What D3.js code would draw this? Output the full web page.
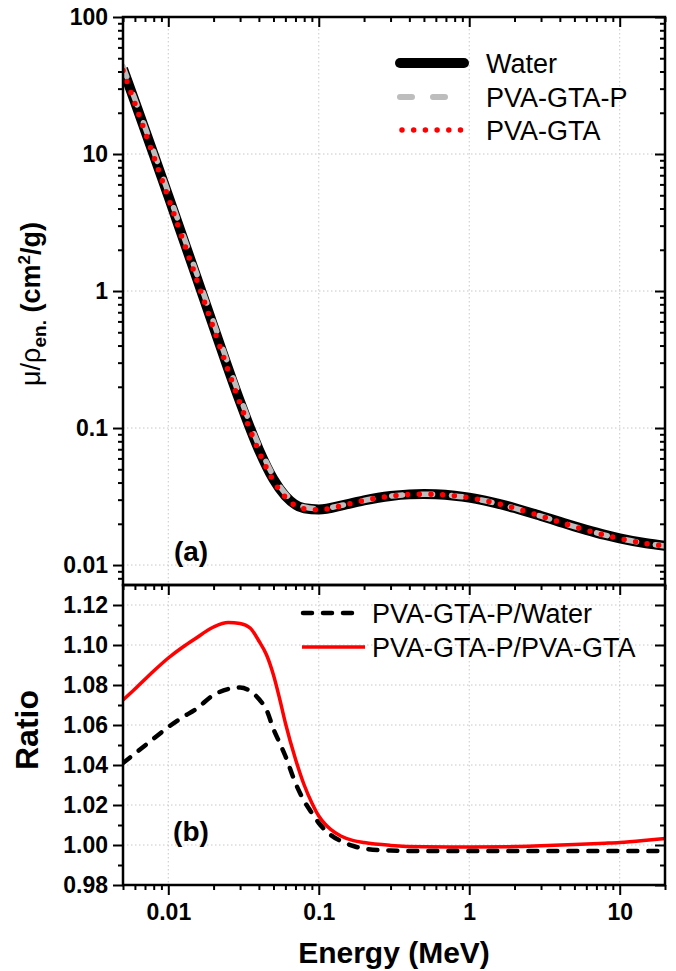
<!DOCTYPE html>
<html>
<head>
<meta charset="utf-8">
<script src="https://cdn.jsdelivr.net/npm/d3@7"></script>
<style>
  body { margin: 0; background: #fff; }
  svg { display: block; font-family: Arial, "Liberation Sans", sans-serif; }
</style>
</head>
<body>
<div id="chart"></div>
<script>
// ---- data ----
// panel (a): energy grid in MeV and mass energy-absorption coefficients (cm2/g)
const energyA = [0.005, 0.006, 0.008, 0.01, 0.015, 0.02, 0.03, 0.04, 0.05, 0.06, 0.08, 0.1,
  0.15, 0.2, 0.3, 0.4, 0.5, 0.6, 0.8, 1, 1.25, 1.5, 2, 3, 4, 5, 6, 8, 10, 15, 20];
const water = [41.88, 24.05, 9.915, 4.944, 1.374, 0.5503, 0.1557, 0.06947, 0.04223, 0.03190, 0.02597, 0.02546,
  0.02764, 0.02967, 0.03192, 0.03279, 0.03299, 0.03284, 0.03206, 0.03103, 0.02965, 0.02833, 0.02608, 0.02281,
  0.02066, 0.01915, 0.01806, 0.01658, 0.01566, 0.01441, 0.01382];
const pvaGtaP = [43.60, 25.16, 10.44, 5.236, 1.467, 0.5910, 0.1680, 0.07454, 0.04468, 0.03324, 0.02654, 0.02574,
  0.02761, 0.02961, 0.03182, 0.03269, 0.03289, 0.03274, 0.03196, 0.03094, 0.02956, 0.02825, 0.02600, 0.02274,
  0.02060, 0.01909, 0.01801, 0.01653, 0.01561, 0.01437, 0.01378];
const pvaGta = [40.67, 23.36, 9.613, 4.790, 1.329, 0.5334, 0.1512, 0.06758, 0.04118, 0.03127, 0.02569, 0.02536,
  0.02750, 0.02958, 0.03185, 0.03272, 0.03292, 0.03277, 0.03199, 0.03097, 0.02959, 0.02828, 0.02603, 0.02276,
  0.02060, 0.01909, 0.01799, 0.01651, 0.01559, 0.01434, 0.01374];

// panel (b): ratios
const energyB = [0.005, 0.006, 0.008, 0.01, 0.0125, 0.015, 0.02, 0.025, 0.03, 0.035, 0.04, 0.045, 0.05, 0.055,
  0.06, 0.07, 0.08, 0.09, 0.1, 0.11, 0.12, 0.14, 0.17, 0.2, 0.3, 0.5, 1, 2, 3, 5, 8, 10, 15, 20];
const ratioWater = [1.041, 1.0457, 1.0532, 1.059, 1.064, 1.0675, 1.075, 1.078, 1.0788, 1.077, 1.073, 1.0675, 1.058, 1.051,
  1.0445, 1.031, 1.022, 1.016, 1.011, 1.0075, 1.005, 1.002, 0.9995, 0.9982, 0.9972, 0.997, 0.997, 0.997, 0.997, 0.997,
  0.997, 0.997, 0.997, 0.997];
const ratioGta = [1.0725, 1.078, 1.087, 1.0935, 1.099, 1.103, 1.109, 1.1112, 1.1108, 1.1085, 1.102, 1.095, 1.085, 1.073,
  1.061, 1.043, 1.030, 1.021, 1.0145, 1.0105, 1.0078, 1.0045, 1.0022, 1.0012, 0.9998, 0.9991, 0.999, 0.9992, 0.9996,
  1.0002, 1.0009, 1.0013, 1.0024, 1.0033];

const xTicks = [0.01, 0.1, 1, 10];
const yTicksA = [0.01, 0.1, 1, 10, 100];
const yTicksB = [0.98, 1.00, 1.02, 1.04, 1.06, 1.08, 1.10, 1.12];

// ---- layout ----
const width = 676, height = 971;
const left = 123, right = 665;
const topA = 17, bottomA = 585, topB = 585, bottomB = 885;

const svg = d3.select("#chart").append("svg")
  .attr("width", width)
  .attr("height", height);

const x = d3.scaleLog().domain([0.005, 20]).range([left, right]);
const yA = d3.scaleLog().domain([0.00715, 100]).range([bottomA, topA]);
const yB = d3.scaleLinear().domain([0.98, 1.13]).range([bottomB, topB]);

// minor tick values
const xMinor = [];
[0.001, 0.01, 0.1, 1, 10].forEach(d => {
  for (let k = 2; k <= 9; k++) {
    const v = d * k;
    if (v >= 0.005 && v <= 20) xMinor.push(v);
  }
});
const yMinorA = [];
[0.001, 0.01, 0.1, 1, 10].forEach(d => {
  for (let k = 2; k <= 9; k++) {
    const v = d * k;
    if (v >= 0.00715 && v < 100) yMinorA.push(v);
  }
});
const yMinorB = [0.99, 1.01, 1.03, 1.05, 1.07, 1.09, 1.11];

// ---- grid ----
const gridStyle = g => g.attr("stroke", "#c8c8c8").attr("stroke-width", 1).attr("stroke-dasharray", "1.5,2.5");

svg.append("g").call(gridStyle)
  .selectAll("line").data(xTicks).enter().append("line")
  .attr("x1", d => x(d)).attr("x2", d => x(d))
  .attr("y1", topA).attr("y2", bottomA);
svg.append("g").call(gridStyle)
  .selectAll("line").data(yTicksA.filter(d => d < 100)).enter().append("line")
  .attr("x1", left).attr("x2", right)
  .attr("y1", d => yA(d)).attr("y2", d => yA(d));
svg.append("g").call(gridStyle)
  .selectAll("line").data(xTicks).enter().append("line")
  .attr("x1", d => x(d)).attr("x2", d => x(d))
  .attr("y1", topB).attr("y2", bottomB);
svg.append("g").call(gridStyle)
  .selectAll("line").data(yTicksB.filter(d => d > 0.98)).enter().append("line")
  .attr("x1", left).attr("x2", right)
  .attr("y1", d => yB(d)).attr("y2", d => yB(d));

// ---- curves ----
svg.append("clipPath").attr("id", "clipA").append("rect")
  .attr("x", left).attr("y", topA).attr("width", right - left).attr("height", bottomA - topA);
svg.append("clipPath").attr("id", "clipB").append("rect")
  .attr("x", left).attr("y", topB).attr("width", right - left).attr("height", bottomB - topB);

const lineA = d3.line().x(d => x(d[0])).y(d => yA(d[1])).curve(d3.curveMonotoneX);
const lineB = d3.line().x(d => x(d[0])).y(d => yB(d[1])).curve(d3.curveMonotoneX);

const gA = svg.append("g").attr("clip-path", "url(#clipA)");
gA.append("path").datum(d3.zip(energyA, water))
  .attr("d", lineA).attr("fill", "none").attr("stroke", "#000").attr("stroke-width", 10);
gA.append("path").datum(d3.zip(energyA, pvaGtaP))
  .attr("d", lineA).attr("fill", "none").attr("stroke", "#bdbdbd").attr("stroke-width", 5.5)
  .attr("stroke-linecap", "round").attr("stroke-dasharray", "11,19");
gA.append("path").datum(d3.zip(energyA, pvaGta))
  .attr("d", lineA).attr("fill", "none").attr("stroke", "#ff0000").attr("stroke-width", 5.5)
  .attr("stroke-linecap", "round").attr("stroke-dasharray", "0,11.7");

const gB = svg.append("g").attr("clip-path", "url(#clipB)");
gB.append("path").datum(d3.zip(energyB, ratioGta))
  .attr("d", lineB).attr("fill", "none").attr("stroke", "#ff0000").attr("stroke-width", 3.5);
gB.append("path").datum(d3.zip(energyB, ratioWater))
  .attr("d", lineB).attr("fill", "none").attr("stroke", "#000").attr("stroke-width", 4.5)
  .attr("stroke-linecap", "round").attr("stroke-dasharray", "9,11");

// ---- axes ----
function styleAxis(g) {
  g.select(".domain").remove();
  g.selectAll(".tick line").attr("stroke", "#000").attr("stroke-width", 2);
  g.selectAll(".tick text").attr("fill", "#000").attr("font-weight", "bold").attr("font-size", 23);
}
function noLabels(g) {
  styleAxis(g);
  g.selectAll(".tick text").remove();
}
const fmtA = d => d3.format("~g")(d);
const fmtB = d => d3.format(".2f")(d);

// panel (a)
svg.append("g").attr("transform", `translate(${left},0)`)
  .call(d3.axisLeft(yA).tickValues(yTicksA).tickFormat(fmtA).tickSize(10).tickPadding(5)).call(styleAxis);
svg.append("g").attr("transform", `translate(${left},0)`)
  .call(d3.axisLeft(yA).tickValues(yMinorA).tickSize(5)).call(noLabels);
svg.append("g").attr("transform", `translate(${right},0)`)
  .call(d3.axisRight(yA).tickValues(yTicksA).tickSize(-10)).call(noLabels);
svg.append("g").attr("transform", `translate(${right},0)`)
  .call(d3.axisRight(yA).tickValues(yMinorA).tickSize(-5)).call(noLabels);
svg.append("g").attr("transform", `translate(0,${topA})`)
  .call(d3.axisTop(x).tickValues(xTicks).tickSize(-10)).call(noLabels);
svg.append("g").attr("transform", `translate(0,${topA})`)
  .call(d3.axisTop(x).tickValues(xMinor).tickSize(-5)).call(noLabels);

// panel (b)
svg.append("g").attr("transform", `translate(${left},0)`)
  .call(d3.axisLeft(yB).tickValues(yTicksB).tickFormat(fmtB).tickSize(10).tickPadding(5)).call(styleAxis);
svg.append("g").attr("transform", `translate(${left},0)`)
  .call(d3.axisLeft(yB).tickValues(yMinorB).tickSize(5)).call(noLabels);
svg.append("g").attr("transform", `translate(${right},0)`)
  .call(d3.axisRight(yB).tickValues(yTicksB).tickSize(-10)).call(noLabels);
svg.append("g").attr("transform", `translate(${right},0)`)
  .call(d3.axisRight(yB).tickValues(yMinorB).tickSize(-5)).call(noLabels);
svg.append("g").attr("transform", `translate(0,${topB})`)
  .call(d3.axisTop(x).tickValues(xTicks).tickSize(-10)).call(noLabels);
svg.append("g").attr("transform", `translate(0,${topB})`)
  .call(d3.axisTop(x).tickValues(xMinor).tickSize(-5)).call(noLabels);
svg.append("g").attr("transform", `translate(0,${bottomB})`)
  .call(d3.axisBottom(x).tickValues(xTicks).tickFormat(fmtA).tickSize(10).tickPadding(9)).call(styleAxis);
svg.append("g").attr("transform", `translate(0,${bottomB})`)
  .call(d3.axisBottom(x).tickValues(xMinor).tickSize(5)).call(noLabels);

// frames
[[topA, bottomA], [topB, bottomB]].forEach(([t, b]) => {
  svg.append("rect")
    .attr("x", left).attr("y", t)
    .attr("width", right - left).attr("height", b - t)
    .attr("fill", "none").attr("stroke", "#000").attr("stroke-width", 2.5);
});

// ---- titles ----
const yTitleA = svg.append("text")
  .attr("transform", "translate(40,304) rotate(-90)")
  .attr("text-anchor", "middle")
  .attr("font-size", 27);
yTitleA.append("tspan").text("μ/ρ");
yTitleA.append("tspan").attr("font-weight", "bold").attr("font-size", 19).attr("dy", 6).text("en.");
yTitleA.append("tspan").attr("font-weight", "bold").attr("dy", -6).text(" (cm");
yTitleA.append("tspan").attr("font-weight", "bold").attr("font-size", 17).attr("dy", -10).text("2");
yTitleA.append("tspan").attr("font-weight", "bold").attr("dy", 10).text("/g)");

svg.append("text")
  .attr("transform", "translate(38,730) rotate(-90)")
  .attr("text-anchor", "middle")
  .attr("font-size", 32).attr("font-weight", "bold")
  .text("Ratio");

svg.append("text")
  .attr("x", (left + right) / 2).attr("y", 963)
  .attr("text-anchor", "middle")
  .attr("font-size", 30).attr("font-weight", "bold")
  .text("Energy (MeV)");

svg.append("text").attr("x", 191).attr("y", 561).attr("text-anchor", "middle")
  .attr("font-size", 28).attr("font-weight", "bold").text("(a)");
svg.append("text").attr("x", 191).attr("y", 841).attr("text-anchor", "middle")
  .attr("font-size", 28).attr("font-weight", "bold").text("(b)");

// ---- legends ----
const legendA = [
  { name: "Water", color: "#000", width: 10, dash: null, y: 63 },
  { name: "PVA-GTA-P", color: "#bdbdbd", width: 6, dash: "12,21", y: 97 },
  { name: "PVA-GTA", color: "#ff0000", width: 5.5, dash: "0,11.7", y: 130 }
];
const legA = svg.append("g");
legendA.forEach(d => {
  legA.append("line")
    .attr("x1", d.dash === "0,11.7" ? 402 : 400).attr("x2", 464)
    .attr("y1", d.y).attr("y2", d.y)
    .attr("stroke", d.color).attr("stroke-width", d.width)
    .attr("stroke-linecap", "round")
    .attr("stroke-dasharray", d.dash);
  legA.append("text")
    .attr("x", 486).attr("y", d.y + 10)
    .attr("font-size", 27)
    .text(d.name);
});

const legendB = [
  { name: "PVA-GTA-P/Water", color: "#000", width: 4.5, dash: "9,11", cap: "round", y: 613 },
  { name: "PVA-GTA-P/PVA-GTA", color: "#ff0000", width: 3.5, dash: null, cap: "butt", y: 647 }
];
const legB = svg.append("g");
legendB.forEach(d => {
  legB.append("line")
    .attr("x1", d.dash ? 303 : 302).attr("x2", d.dash ? 356 : 365)
    .attr("y1", d.y).attr("y2", d.y)
    .attr("stroke", d.color).attr("stroke-width", d.width)
    .attr("stroke-linecap", d.cap)
    .attr("stroke-dasharray", d.dash);
  legB.append("text")
    .attr("x", 372).attr("y", d.y + 10)
    .attr("font-size", 27)
    .text(d.name);
});
</script>
</body>
</html>
